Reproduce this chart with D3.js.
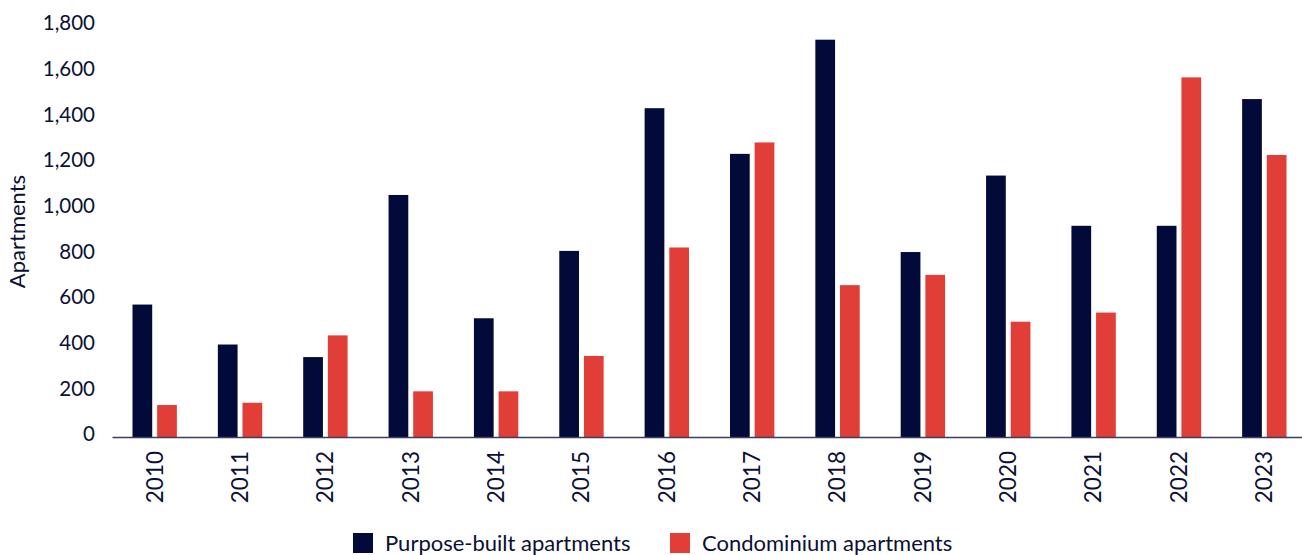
<!DOCTYPE html>
<html>
<head>
<meta charset="utf-8">
<script src="https://cdn.jsdelivr.net/npm/d3@7"></script>
<style>
  html, body { margin: 0; padding: 0; background: #fff; }
  svg text { font-family: "Lato", "Open Sans", sans-serif; fill: #0b1035; }
</style>
</head>
<body>
<svg id="chart"></svg>
<script>
const YEARS   = ["2010", "2011", "2012", "2013", "2014", "2015", "2016",
                 "2017", "2018", "2019", "2020", "2021", "2022", "2023"];
const PURPOSE = [580, 405, 350, 1060, 520, 815, 1440, 1240, 1740, 810, 1145, 925, 925, 1480];
const CONDO   = [140, 150, 445, 200, 200, 355, 830, 1290, 665, 710, 505, 545, 1575, 1235];
const Y_TICKS = [0, 200, 400, 600, 800, 1000, 1200, 1400, 1600, 1800];

const SERIES = ["purpose", "condo"];
const SERIES_LABELS = { purpose: "Purpose-built apartments", condo: "Condominium apartments" };
const SERIES_COLORS = { purpose: "#020a3a", condo: "#e03e36" };

const SVG_W = 1302;
const SVG_H = 555;
const X0 = 112, X1 = 1307;   // axis line runs past the right edge
const Y_ZERO = 437, Y_TOP = 26;

const rows = YEARS.map((y, i) => ({ year: y, purpose: PURPOSE[i], condo: CONDO[i] }));

const svg = d3.select("#chart")
  .attr("width", SVG_W)
  .attr("height", SVG_H);

const x0 = d3.scaleBand()
  .domain(YEARS)
  .range([X0, X1])
  .paddingInner(0.48)
  .paddingOuter(0.24);

const x1 = d3.scaleBand()
  .domain(SERIES)
  .range([0, x0.bandwidth()])
  .paddingInner(0.2);

const y = d3.scaleLinear()
  .domain([0, 1800])
  .range([Y_ZERO, Y_TOP]);

// y tick labels (no axis line)
svg.append("g")
  .selectAll("text")
  .data(Y_TICKS)
  .enter().append("text")
  .attr("x", 95)
  .attr("y", (d) => y(d) - 3)
  .attr("dy", "0.35em")
  .attr("text-anchor", "end")
  .attr("font-size", 20.5)
  .text((d) => d3.format(",")(d));

// y title
svg.append("text")
  .attr("transform", `translate(25,${(Y_ZERO + Y_TOP) / 2}) rotate(-90)`)
  .attr("text-anchor", "middle")
  .attr("font-size", 22)
  .text("Apartments");

// bars
const groups = svg.append("g")
  .selectAll("g")
  .data(rows)
  .enter().append("g")
  .attr("transform", (d) => `translate(${x0(d.year)},0)`);

groups.selectAll("rect")
  .data((d) => SERIES.map((k) => ({ key: k, value: d[k] })))
  .enter().append("rect")
  .attr("x", (d) => x1(d.key))
  .attr("width", x1.bandwidth())
  .attr("y", (d) => y(d.value))
  .attr("height", (d) => Y_ZERO - y(d.value))
  .attr("fill", (d) => SERIES_COLORS[d.key]);

// x axis
const xAxis = svg.append("g")
  .attr("transform", `translate(0,${Y_ZERO})`)
  .call(d3.axisBottom(x0).tickSize(0).tickPadding(0));

xAxis.select(".domain")
  .attr("stroke", "#3b3f5e")
  .attr("stroke-width", 1.5);

xAxis.selectAll("text")
  .attr("font-size", 22.5)
  .attr("font-family", null)
  .attr("fill", "#0b1035")
  .attr("transform", "rotate(-90)")
  .attr("text-anchor", "end")
  .attr("x", -14)
  .attr("y", 0)
  .attr("dy", "0.35em");

// legend
const LEGEND_X = { purpose: 353, condo: 670 };
SERIES.forEach((k) => {
  svg.append("rect")
    .attr("x", LEGEND_X[k])
    .attr("y", 533)
    .attr("width", 20)
    .attr("height", 20)
    .attr("fill", SERIES_COLORS[k]);
  svg.append("text")
    .attr("x", LEGEND_X[k] + 32)
    .attr("y", 543)
    .attr("dy", "0.35em")
    .attr("font-size", 22)
    .text(SERIES_LABELS[k]);
});
</script>
</body>
</html>
